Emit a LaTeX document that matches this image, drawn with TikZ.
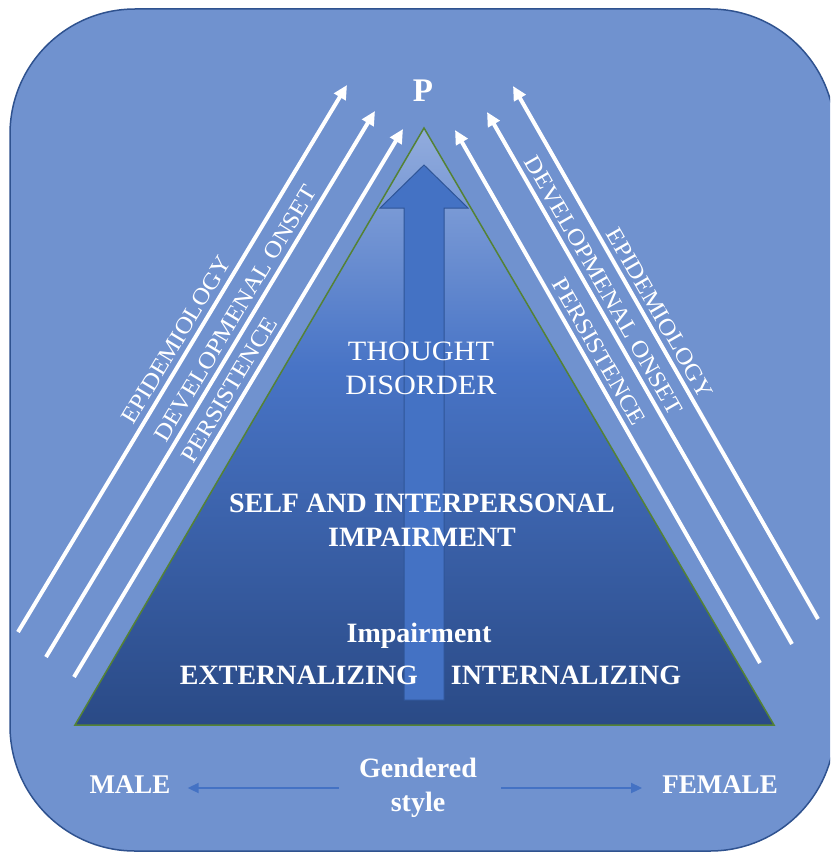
\documentclass[tikz,border=0pt]{standalone}
\usepackage{fontspec}
\setmainfont{Liberation Serif}
\newfontfamily\widefont{Liberation Serif}[FakeStretch=1.08]
\usetikzlibrary{arrows.meta}

\definecolor{panelblue}{RGB}{112,146,207}
\definecolor{paneledge}{RGB}{47,82,143}
\definecolor{tritop}{RGB}{146,172,221}
\definecolor{trimid}{RGB}{72,116,198}
\definecolor{tribottom}{RGB}{42,74,134}
\definecolor{triedge}{RGB}{84,130,53}
\definecolor{shaftblue}{RGB}{68,114,196}
\definecolor{shaftedge}{RGB}{47,85,151}

\pgfdeclareverticalshading{pyramid}{100bp}{color(0bp)=(tribottom); color(25bp)=(tribottom); color(55bp)=(trimid); color(75bp)=(tritop); color(100bp)=(tritop)}

\begin{document}
\begin{tikzpicture}[x=1pt, y=-1pt,
		trend/.style={white, line width=4pt, -{Triangle[length=14pt,width=13pt]}},
		trendtext/.style={sloped, above=5pt, inner sep=0pt, white, font=\widefont\fontsize{23.5}{26}\selectfont},
		plaintext/.style={white, inner sep=0pt, align=center, font=\widefont\fontsize{28}{34}\selectfont},
		boldtext/.style={white, inner sep=0pt, align=center, font=\bfseries\fontsize{28}{34}\selectfont},
		sexline/.style={shaftblue, line width=2pt, -{Triangle[length=11pt,width=10pt]}}]
		\useasboundingbox (0,0) rectangle (830,853);
		\clip (0,0) rectangle (830,853);

		% panel and pyramid
		\draw [fill=panelblue, draw=paneledge, line width=1.5pt, rounded corners=125pt] (10,9) rectangle (835,851);
		\shadedraw [shading=pyramid, draw=triedge, line width=1.5pt] (424,128) -- (774,725) -- (75,725) -- cycle;
		\filldraw [fill=shaftblue, draw=shaftedge, line width=1pt] (404,700) -- (404,208) -- (380,208) -- (424,165) -- (468,208) -- (444,208) -- (444,700) -- cycle;

		% trends up both sides
		\foreach \n/\xa/\ya/\xb/\yb/\txt/\p in {
			1/18/632/347/85/EPIDEMIOLOGY/.52,
			2/46/657/375/111/DEVELOPMENAL ONSET/.615,
			3/74/677/403/129/PERSISTENCE/.51,
			4/818/619/513/86/EPIDEMIOLOGY/.56,
			5/792/644/487/112/DEVELOPMENAL ONSET/.66,
			6/760/663/455/130/PERSISTENCE/.57} {
			\coordinate (from\n) at (\xa,\ya);
			\coordinate (to\n) at (\xb,\yb);
			\draw [trend] (from\n) -- (to\n) node [trendtext, pos=\p] (trend\n) {\txt};
		}

		\node [boldtext, anchor=base, font=\bfseries\fontsize{33}{36}\selectfont] (p) at (423,102) {P};
		\node [plaintext] (thought) at (421,368) {THOUGHT\\DISORDER};
		\node [boldtext] (self) at (422,520) {SELF AND INTERPERSONAL\\IMPAIRMENT};
		\node [boldtext, anchor=base] (impair) at (419,642) {Impairment};
		\node [boldtext, anchor=base] (ext) at (299,684) {EXTERNALIZING};
		\node [boldtext, anchor=base] (int) at (566,684) {INTERNALIZING};

		% gendered style
		\node [boldtext] (gendered) at (418,788) {Gendered\\style};
		\node [boldtext, anchor=base, font=\bfseries\fontsize{27}{32}\selectfont] (male) at (130,793) {MALE};
		\node [boldtext, anchor=base, font=\bfseries\fontsize{27}{32}\selectfont] (female) at (720,793) {FEMALE};
		\draw [sexline, shorten <=20pt, shorten >=17pt] (gendered.west) -- (gendered.west -| male.east);
		\draw [sexline, shorten <=24pt, shorten >=20pt] (gendered.east) -- (gendered.east -| female.west);
	\end{tikzpicture}
\end{document}
